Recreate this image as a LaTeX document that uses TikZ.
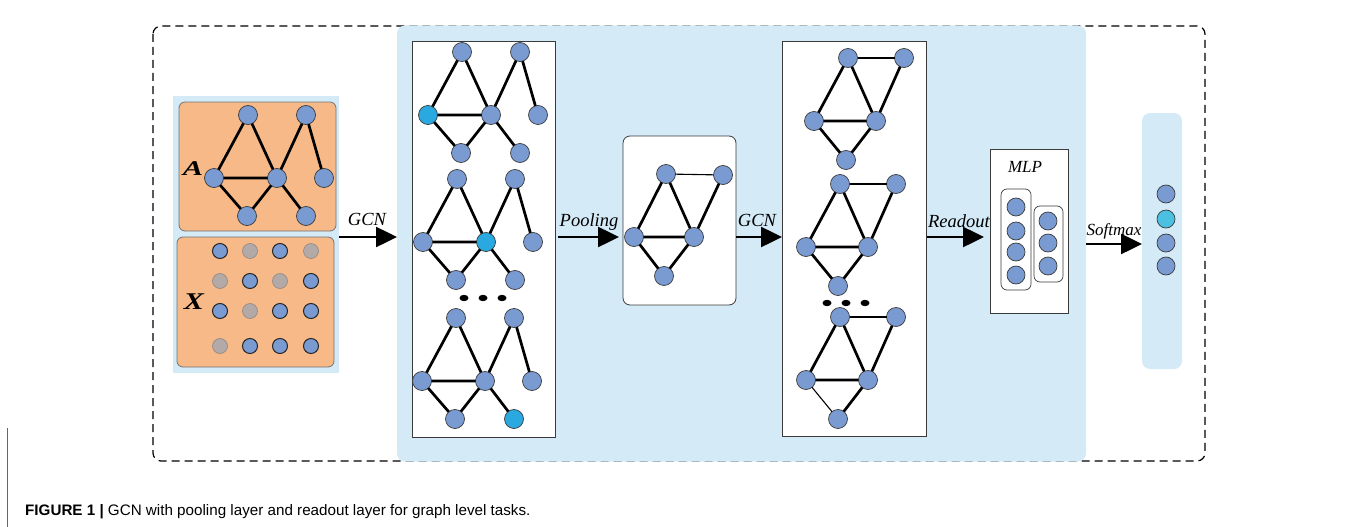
\documentclass[tikz,border=0pt]{standalone}
\usepackage{fontspec}
\setmainfont{Liberation Serif}
\newfontfamily\capfont{Liberation Sans}
\usetikzlibrary{arrows.meta}
\definecolor{nblue}{HTML}{7A9BD2}
\definecolor{ncyan}{HTML}{2AA8E0}
\definecolor{scyan}{HTML}{4CC0E0}
\definecolor{orng}{HTML}{F6B987}
\definecolor{lblue}{HTML}{D5EAF7}
\definecolor{gdot}{HTML}{B3A9A6}
\definecolor{bord}{HTML}{3A3A3A}
\tikzset{
 gn/.style={circle, fill=nblue, draw=bord, line width=0.7pt, minimum size=19pt, inner sep=0pt, outer sep=0pt},
 gd/.style={circle, fill=gdot, draw=gdot!80!black, line width=0.6pt, minimum size=15pt, inner sep=0pt},
 bd/.style={circle, fill=nblue, draw=black!85, line width=1pt, minimum size=15pt, inner sep=0pt},
 ed/.style={line width=2.7pt, black},
 thinedge/.style={line width=1.1pt, black},
 flow/.style={line width=2.5pt, -{Triangle[length=21pt,width=20pt]}},
 lbl/.style={font=\fontsize{18.5}{20}\selectfont\itshape, inner sep=0pt, anchor=base},
 box/.style={draw=bord, line width=0.8pt, fill=white, inner sep=0pt, outer sep=0pt},
 blk/.style={inner sep=0pt, outer sep=0pt},
}
\newcommand\graphA[6]{%
 \begin{scope}[shift={(#2,#3)}]
 \node[gn,fill=#4] (#1l) at (0,0) {};
 \node[gn] (#1ta) at (34,-63) {};
 \node[gn] (#1tb) at (92,-63) {};
 \node[gn,fill=#5] (#1c) at (63,0) {};
 \node[gn] (#1r) at (110,0) {};
 \node[gn] (#1ba) at (33,38) {};
 \node[gn,fill=#6] (#1bb) at (92,38) {};
 \draw[ed] (#1ta)--(#1l) (#1ta)--(#1c) (#1l)--(#1c) (#1l)--(#1ba) (#1ba)--(#1c) (#1c)--(#1tb) (#1tb)--(#1r) (#1c)--(#1bb);
 \end{scope}}
\newcommand\graphB[5]{%
 \begin{scope}[shift={(#2,#3)}]
 \node[gn] (#1l) at (0,0) {};
 \node[gn] (#1t) at (34,-63) {};
 \node[gn] (#1tr) at (90,-63) {};
 \node[gn] (#1c) at (62,0) {};
 \node[gn] (#1b) at (32,39) {};
 \draw[ed] (#1t)--(#1l) (#1t)--(#1c) (#1tr)--(#1c) (#1l)--(#1c) (#1b)--(#1c);
 \draw[#4] (#1t)--(#1tr);
 \draw[#5] (#1l)--(#1b);
 \end{scope}}
\begin{document}
\begin{tikzpicture}[x=1pt,y=-1pt]
\useasboundingbox (0,0) rectangle (1360,527);
\fill[white] (0,0) rectangle (1360,527);
% left rule near caption
\draw[black!60, line width=1pt] (7,428) -- (7,527);
% dashed frame
\draw[black, line width=1.2pt, dash pattern=on 8pt off 5pt, rounded corners=8pt] (153,26) rectangle (1205,461);
% big blue panel
\node[blk, fill=lblue, rounded corners=8pt, minimum width=689pt, minimum height=436pt] (big) at (741.5,243.5) {};
% input panel
\node[blk, fill=lblue, minimum width=166pt, minimum height=277pt] (inp) at (256,234.5) {};
\draw[fill=orng, draw=black!55, line width=0.8pt, rounded corners=6pt] (179,102) rectangle (336,231);
\draw[fill=orng, draw=black!55, line width=0.8pt, rounded corners=6pt] (177,237) rectangle (334,367);
% A graph
\graphA{a}{214}{178}{nblue}{nblue}{nblue}
\node[blk, font=\fontsize{21}{22}\selectfont\bfseries\itshape] (labA) at (193,169) {\scalebox{1.45}[1]{A}};
% X matrix
\node[bd] (x11) at (220,251) {}; \node[gd] (x12) at (250,251) {}; \node[bd] (x13) at (280,251) {}; \node[gd] (x14) at (311,251) {};
\node[gd] (x21) at (220,281) {}; \node[bd] (x22) at (250,281) {}; \node[gd] (x23) at (280,281) {}; \node[bd] (x24) at (311,281) {};
\node[bd] (x31) at (220,311) {}; \node[gd] (x32) at (250,311) {}; \node[bd] (x33) at (280,311) {}; \node[bd] (x34) at (311,311) {};
\node[gd] (x41) at (220,346) {}; \node[bd] (x42) at (250,346) {}; \node[bd] (x43) at (280,346) {}; \node[bd] (x44) at (311,346) {};
\node[blk, font=\fontsize{24}{26}\selectfont\bfseries\itshape] (labX) at (194,302) {\scalebox{1.25}[1]{X}};
% panel 1
\node[box, minimum width=143pt, minimum height=396pt] (p1) at (483.5,239) {};
\graphA{ga}{428}{115}{ncyan}{nblue}{nblue}
\graphA{gb}{423}{242}{nblue}{ncyan}{nblue}
\graphA{gc}{422}{381}{nblue}{nblue}{ncyan}
\fill (464,298) ellipse [x radius=4.5, y radius=3.2];
\fill (483,298) ellipse [x radius=4.5, y radius=3.2];
\fill (502,298) ellipse [x radius=4.5, y radius=3.2];
% pooling panel
\node[box, rounded corners=7pt, minimum width=113pt, minimum height=169pt] (pool) at (679.5,220.5) {};
\begin{scope}[shift={(634,237)}]
 \node[gn] (pl) at (0,0) {};
 \node[gn] (pt) at (32,-63) {};
 \node[gn] (ptr) at (89,-62) {};
 \node[gn] (pc) at (60,0) {};
 \node[gn] (pb) at (30,39) {};
 \draw[ed] (pt)--(pl) (pt)--(pc) (ptr)--(pc) (pl)--(pc) (pb)--(pc) (pl)--(pb);
 \draw[thinedge] (pt)--(ptr);
\end{scope}
% panel 2
\node[box, minimum width=144pt, minimum height=395pt] (p2) at (854,238.5) {};
\graphB{ha}{814}{121}{ed}{ed}
\graphB{hb}{806}{247}{ed}{ed}
\graphB{hc}{806}{380}{ed}{thinedge}
\fill (827,303) ellipse [x radius=4.5, y radius=3.2];
\fill (846,303) ellipse [x radius=4.5, y radius=3.2];
\fill (865,303) ellipse [x radius=4.5, y radius=3.2];
% MLP
\node[box, minimum width=78pt, minimum height=164pt] (mlp) at (1029,231) {};
\node[lbl, font=\fontsize{17}{20}\selectfont\itshape] (mlptxt) at (1025,172) {MLP};
\draw[draw=bord, line width=0.7pt, rounded corners=6pt] (1001,189) rectangle (1031,290);
\draw[draw=bord, line width=0.7pt, rounded corners=6pt] (1034,206) rectangle (1063,282);
\node[gn, minimum size=18pt] (m1) at (1016,207) {};
\node[gn, minimum size=18pt] (m2) at (1016,231) {};
\node[gn, minimum size=18pt] (m3) at (1016,252) {};
\node[gn, minimum size=18pt] (m4) at (1016,275) {};
\node[gn, minimum size=18pt] (n1) at (1048,221) {};
\node[gn, minimum size=18pt] (n2) at (1048,243) {};
\node[gn, minimum size=18pt] (n3) at (1048,266) {};
% softmax panel
\node[blk, fill=lblue, rounded corners=8pt, minimum width=40pt, minimum height=256pt] (soft) at (1162,241) {};
\node[gn, minimum size=18pt] (s1) at (1166,194) {};
\node[gn, minimum size=18pt, fill=scyan] (s2) at (1166,219) {};
\node[gn, minimum size=18pt] (s3) at (1166,243) {};
\node[gn, minimum size=18pt] (s4) at (1166,266) {};
% arrows
\coordinate (ay) at (0,237);
\draw[flow] (inp.east |- ay) -- (big.west |- ay);
\draw[flow] ([xshift=3pt]p1.east |- ay) -- ([xshift=-4pt]pool.west |- ay);
\draw[flow] (pool.east |- ay) -- (p2.west |- ay);
\draw[flow] ([xshift=1pt]p2.east |- ay) -- ([xshift=-6pt]mlp.west |- ay);
\coordinate (sy) at (0,244);
\draw[flow] (big.east |- sy) -- (soft.west |- sy);
% labels
\node[lbl] (t1) at (367,225) {GCN};
\node[lbl] (t2) at (589,226) {Pooling};
\node[lbl] (t3) at (757,226) {GCN};
\node[lbl] (t4) at (959,227) {Readout};
\node[lbl, font=\fontsize{17}{20}\selectfont\itshape] (t5) at (1114,235) {Softmax};
% caption
\node[anchor=base west, inner sep=0pt, font=\capfont\fontsize{15.2}{17}\selectfont] (cap) at (25,515) {\textbf{FIGURE 1 |} GCN with pooling layer and readout layer for graph level tasks.};
\end{tikzpicture}
\end{document}
